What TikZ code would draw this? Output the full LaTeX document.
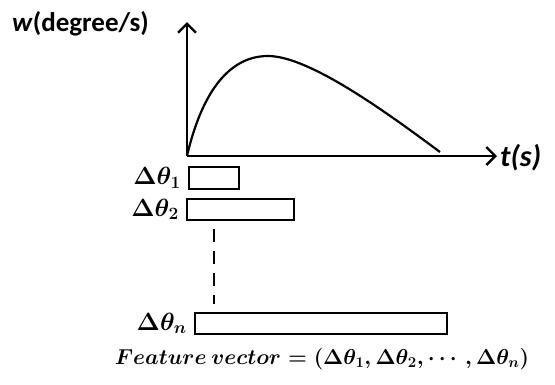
\documentclass[tikz,border=0pt]{standalone}
\usepackage{fontspec}
\setmainfont{Carlito}
\usepackage{amsmath,bm,graphicx}
\usetikzlibrary{arrows.meta, positioning}
\definecolor{inkblack}{HTML}{000000}

\tikzset{
  axis/.style={line width=2.4pt, inkblack, ->},
  bar/.style={draw=inkblack, line width=1.8pt, rectangle, inner sep=0pt, anchor=north west},
  barlabel/.style={font=\fontsize{24}{26}\selectfont\boldmath, inner sep=0pt, left=7pt of #1},
}

\begin{document}
\begin{tikzpicture}[x=1pt, y=-1pt, >={Straight Barb[length=9pt, width=18pt]}]
  \useasboundingbox (0,0) rectangle (555,384);
  % axes
  \coordinate (origin) at (187,156);
  \coordinate (ytop) at (187,22);
  \coordinate (xend) at (497,156);
  \coordinate (peak) at (268,56);
  \coordinate (tail) at (440,152);
  \draw[axis] (origin) -- (ytop);
  \draw[axis] (origin) -- (xend);
  \draw[line width=2.2pt] (origin) .. controls (200,100) and (225,56) .. (peak)
    .. controls (310,56) and (390,115) .. (tail);
  \node[font=\fontsize{27}{30}\selectfont\bfseries, anchor=west, inner sep=0pt] (wlabel) at (12,24) {\textit{w}(degree/s)};
  \node[font=\fontsize{30}{32}\selectfont\bfseries\itshape, anchor=west, inner sep=0pt] (tlabel) at (500,158) {t(s)};
  % angle bars
  \node[bar, minimum width=50pt, minimum height=22pt] (bar1) at (188,166) {};
  \node[bar, minimum width=107pt, minimum height=21pt] (bar2) at (186,198) {};
  \node[bar, minimum width=252pt, minimum height=21pt] (barn) at (194,312) {};
  \node[barlabel=bar1] (lab1) {$\Delta\theta_1$};
  \node[barlabel=bar2] (lab2) {$\Delta\theta_2$};
  \node[barlabel=barn] (labn) {$\Delta\theta_n$};
  \coordinate (dtop) at (214,229);
  \coordinate (dbot) at (214,304);
  \draw[line width=2.4pt, dash pattern=on 13pt off 9pt] (dtop) -- (dbot);
  \node[font=\huge\boldmath, inner sep=0pt] (feature) at (322,359)
    {\scalebox{1.04}{$Feature\ vector = (\Delta\theta_1, \Delta\theta_2, \cdots, \Delta\theta_n)$}};
\end{tikzpicture}
\end{document}
